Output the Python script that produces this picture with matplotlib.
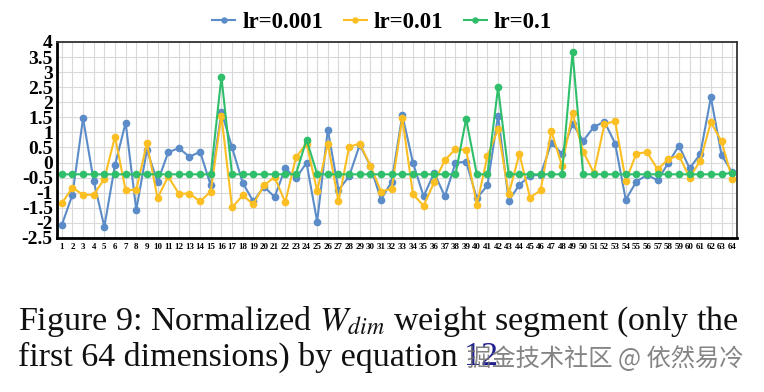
import matplotlib
matplotlib.use('Agg')
import matplotlib.pyplot as plt

# Data
dims = list(range(1, 65))

lr_0001 = [-2.07, -1.07, 1.47, -0.61, -2.13, -0.08, 1.32, -1.57, 0.42, -0.65,
           0.34, 0.48, 0.19, 0.36, -0.76, 1.69, 0.50, -0.67, -1.29, -0.80,
           -1.14, -0.19, -0.52, -0.01, -1.96, 1.09, -0.91, -0.46, 0.59, -0.11,
           -1.23, -0.63, 1.58, 0.00, -1.12, -0.34, -1.12, -0.01, 0.03, -1.18,
           -0.76, 1.56, -1.27, -0.74, -0.43, -0.41, 0.65, 0.30, 1.29, 0.72,
           1.18, 1.36, 0.63, -1.23, -0.63, -0.41, -0.59, -0.01, 0.56, -0.19,
           0.28, 2.16, 0.25, -0.32]

lr_001 = [-1.35, -0.83, -1.07, -1.07, -0.54, 0.86, -0.92, -0.90, 0.64, -1.18,
          -0.46, -1.03, -1.03, -1.29, -0.96, 1.56, -1.49, -1.09, -1.38, -0.76,
          -0.48, -1.32, 0.17, 0.63, -0.94, 0.63, -1.29, 0.52, 0.63, -0.10,
          -0.96, -0.87, 1.47, -1.05, -1.43, -0.65, 0.08, 0.45, 0.41, -1.40,
          0.21, 1.11, -1.05, 0.29, -1.16, -0.92, 1.05, -0.10, 1.63, 0.36,
          -0.34, 1.27, 1.38, -0.61, 0.30, 0.34, -0.23, 0.12, 0.23, -0.50,
          0.06, 1.34, 0.70, -0.54]

base = -0.39
lr_01 = [base] * 64
lr_01[15] = 2.84
lr_01[23] = 0.76
lr_01[38] = 1.45
lr_01[41] = 2.49
lr_01[48] = 3.66
lr_01[63] = -0.34

series = [('lr=0.001', lr_0001, '#5b8cc8'),
          ('lr=0.01', lr_001, '#fbbf24'),
          ('lr=0.1', lr_01, '#2fbf6a')]

y_ticks = [-2.5, -2, -1.5, -1, -0.5, 0, 0.5, 1, 1.5, 2, 2.5, 3, 3.5, 4]
y_labels = ['-2.5', '-2', '-1.5', '-1', '-0.5', '0', '0.5', '1', '1.5', '2',
            '2.5', '3', '3.5', '4']

plt.rcParams['font.family'] = ['Liberation Serif', 'DejaVu Serif']
plt.rcParams['mathtext.fontset'] = 'stix'

fig = plt.figure(figsize=(7.64, 3.92), dpi=100)
ax = fig.add_axes([0.0746, 0.393, 0.890, 0.50])

for label, vals, color in series:
    ax.plot(dims, vals, color=color, lw=1.5, marker='o', markersize=4.5,
            label=label)

ax.set_xlim(0.55, 64.45)
ax.set_ylim(-2.5, 4)
ax.set_xticks(dims)
ax.set_xticklabels([str(d) for d in dims], fontsize=6.5, fontweight='bold')
ax.set_yticks(y_ticks)
ax.set_yticklabels(y_labels, fontsize=14, fontweight='bold')
ax.tick_params(axis='both', length=0)
ax.tick_params(axis='x', pad=4)
ax.tick_params(axis='y', pad=3)

ax.grid(True, color='#d9d9d9', lw=0.8)
ax.set_axisbelow(True)
for side in ['left', 'bottom']:
    ax.spines[side].set_linewidth(2)
for side in ['top', 'right']:
    ax.spines[side].set_linewidth(1.3)
    ax.spines[side].set_color('#333333')

fig.legend(loc='center', bbox_to_anchor=(0.5, 0.943), ncol=3,
           frameon=False, prop={'size': 16.5, 'weight': 'bold'},
           handlelength=1.0, handletextpad=0.3, columnspacing=0.9,
           markerscale=0.8, borderpad=0)

# Caption below the chart
cap_size = 24.5
fig.text(0.024, 0.158, r'Figure 9: Normalized $W_{dim}$ weight segment (only the',
         fontsize=cap_size, va='baseline', ha='left', color='#111111')
line2 = fig.text(0.024, 0.068, 'first 64 dimensions) by equation',
                 fontsize=cap_size, va='baseline', ha='left', color='#111111')

fig.canvas.draw()
bb = line2.get_window_extent().transformed(fig.transFigure.inverted())
fig.text(bb.x1 + 0.008, 0.068, '12', fontsize=cap_size, va='baseline',
         ha='left', color='#1f1f8f')
fig.text(bb.x1 + 0.012, 0.066, '掘金技术社区 @ 依然易冷', fontsize=17.5,
         family=['Noto Sans CJK SC', 'DejaVu Sans'], va='baseline', ha='left',
         color='#6e6e6e', alpha=0.85)

fig.savefig('out.png', dpi=100)
